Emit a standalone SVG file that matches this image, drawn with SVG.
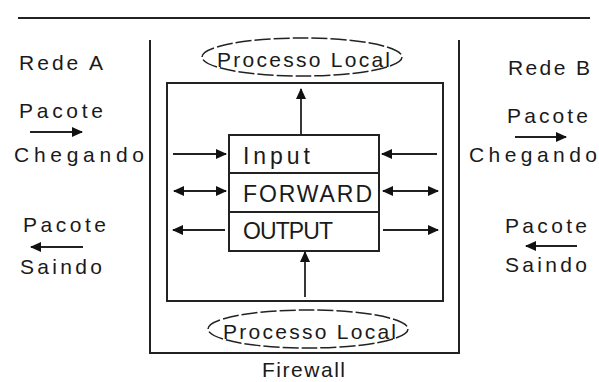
<svg xmlns="http://www.w3.org/2000/svg" width="599" height="382" viewBox="0 0 599 382">
<style>
text{font-family:"Liberation Sans",Arial,sans-serif;fill:#1a1a1a;font-size:21px}
.box{font-size:23px}
.ln{stroke:#222;stroke-width:2;fill:none}
.ar{stroke:#222;stroke-width:1.8;fill:none}
.el{stroke:#222;stroke-width:1.5;fill:none;stroke-dasharray:16 3}
</style>
<defs>
<marker id="ah" markerUnits="userSpaceOnUse" markerWidth="11" markerHeight="10" refX="10" refY="5" orient="auto-start-reverse">
<path d="M0,0 L11,5 L0,10 z" fill="#111"/>
</marker>
</defs>
<rect width="599" height="382" fill="#fff"/>
<g id="topline"><line class="ln" x1="18" y1="18" x2="590" y2="18"/></g>
<g id="firewall">
<path class="ln" d="M150,40 V353 H459 V40"/>
<text x="262" y="377" textLength="83">Firewall</text>
</g>
<g id="inner"><rect class="ln" x="167" y="83" width="276" height="218"/></g>
<g id="proc-top">
<ellipse class="el" cx="302" cy="57" rx="100" ry="19"/>
<text x="217" y="67" textLength="173">Processo Local</text>
</g>
<g id="proc-bottom">
<ellipse class="el" cx="308" cy="329" rx="100" ry="19"/>
<text x="223" y="339" textLength="173">Processo Local</text>
</g>
<g id="chains">
<rect class="ln" x="229" y="135" width="150" height="116"/>
<line class="ln" x1="229" y1="173" x2="379" y2="173"/>
<line class="ln" x1="229" y1="212" x2="379" y2="212"/>
<text class="box" x="243" y="164" textLength="67">Input</text>
<text class="box" x="243" y="202" textLength="129">FORWARD</text>
<text class="box" x="243" y="239" textLength="90">OUTPUT</text>
</g>
<g id="rede-a">
<text x="19" y="70" textLength="84">Rede A</text>
<text x="19" y="118" textLength="84">Pacote</text>
<text x="14" y="162" textLength="130">Chegando</text>
<text x="23" y="232" textLength="83">Pacote</text>
<text x="20" y="274" textLength="82">Saindo</text>
</g>
<g id="rede-b">
<text x="508" y="75" textLength="82">Rede B</text>
<text x="507" y="123" textLength="81">Pacote</text>
<text x="469" y="162" textLength="128">Chegando</text>
<text x="505" y="233" textLength="82">Pacote</text>
<text x="505" y="272" textLength="82">Saindo</text>
</g>
<g id="connectors">
<path class="ar" d="M301,135 V89" marker-end="url(#ah)"/>
<path class="ar" d="M305,297 V252" marker-end="url(#ah)"/>
<path class="ar" d="M173,154 H226" marker-end="url(#ah)"/>
<path class="ar" d="M174,191 H226" marker-start="url(#ah)" marker-end="url(#ah)"/>
<path class="ar" d="M225,230 H173" marker-end="url(#ah)"/>
<path class="ar" d="M437,154 H382" marker-end="url(#ah)"/>
<path class="ar" d="M383,191 H438" marker-start="url(#ah)" marker-end="url(#ah)"/>
<path class="ar" d="M383,230 H438" marker-end="url(#ah)"/>
<path class="ar" d="M30,132 H82" marker-end="url(#ah)"/>
<path class="ar" d="M83,247 H31" marker-end="url(#ah)"/>
<path class="ar" d="M515,137 H566" marker-end="url(#ah)"/>
<path class="ar" d="M577,246 H526" marker-end="url(#ah)"/>
</g>
</svg>
